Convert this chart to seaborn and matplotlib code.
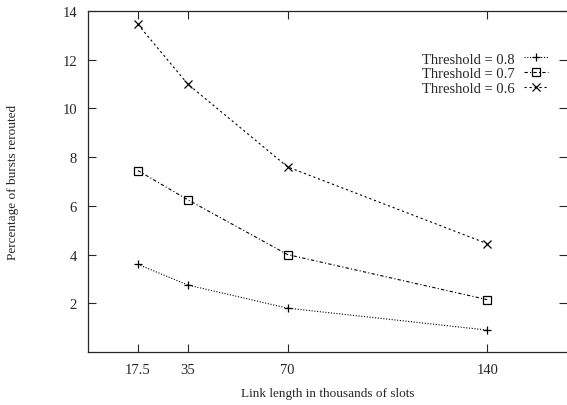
import matplotlib
matplotlib.use('Agg')
import matplotlib.pyplot as plt
import seaborn as sns

# link length (thousands of slots) and % of bursts rerouted per threshold
link_len = [17.5, 35, 70, 140]
thr_08 = [3.6, 2.75, 1.8, 0.9]
thr_07 = [7.45, 6.25, 4.0, 2.15]
thr_06 = [13.45, 11.0, 7.6, 4.45]
x_ticks = [17.5, 35, 70, 140]
y_ticks = [2, 4, 6, 8, 10, 12, 14]

sns.set_style('ticks')
plt.rcParams['font.family'] = ['Liberation Serif', 'DejaVu Serif']
plt.rcParams['font.size'] = 10

fig = plt.figure(figsize=(5.67, 4.06), dpi=100)
ax = fig.add_axes([88/567, 53/406, 479/567, 341/406])

sns.lineplot(x=link_len, y=thr_08, ax=ax, color='black', lw=0.8, linestyle=(0, (1, 1.5)),
             marker='+', markersize=6, markeredgewidth=0.9, markeredgecolor='black',
             label='Threshold = 0.8')
sns.lineplot(x=link_len, y=thr_07, ax=ax, color='black', lw=0.8, linestyle=(0, (3, 2, 1, 2)),
             marker='s', markersize=5.5, markerfacecolor='none', markeredgecolor='black',
             markeredgewidth=0.9, label='Threshold = 0.7')
sns.lineplot(x=link_len, y=thr_06, ax=ax, color='black', lw=0.8, linestyle=(0, (2, 2.5)),
             marker='x', markersize=5.5, markeredgewidth=0.9, markeredgecolor='black',
             label='Threshold = 0.6')

ax.set_xlim(0, 168)
ax.set_ylim(0, 14)
ax.set_xticks(x_ticks)
ax.set_xticklabels(['17.5', '35', '70', '140'])
ax.set_yticks(y_ticks)
ax.tick_params(direction='in', length=6, width=0.8, top=True, right=True, pad=8, labelsize=10.5)
ax.spines['right'].set_visible(False)
for s in ['left', 'top', 'bottom']:
    ax.spines[s].set_linewidth(0.9)

ax.set_xlabel('Link length in thousands of slots', fontsize=9.5, labelpad=8)
ax.set_ylabel('Percentage of bursts rerouted', fontsize=9.5, labelpad=31)

ax.legend(loc='upper right', bbox_to_anchor=(0.975, 0.9), frameon=False, markerfirst=False,
          handlelength=1.6, handletextpad=0.7, borderpad=0, labelspacing=0.1, fontsize=10.5)

fig.savefig('out.png', dpi=100)
